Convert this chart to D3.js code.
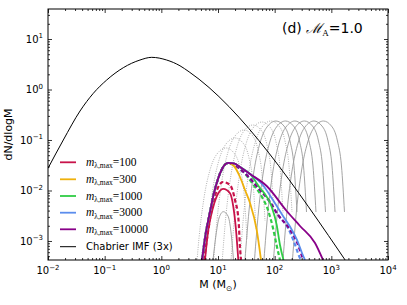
<!DOCTYPE html>
<html><head><meta charset="utf-8">
<script src="https://cdn.jsdelivr.net/npm/d3@7"></script>
<style>body{margin:0;background:#fff} svg{display:block}</style>
</head><body><svg id="c" width="407" height="305"></svg>
<script>
// ---------- DATA (log10 M, log10 dN/dlogM) ----------
const xTickExps = [-2,-1,0,1,2,3,4];
const yTickExps = [-3,-2,-1,0,1];
const legendLabels = ["100","300","1000","3000","10000"];

const chabrier = [[-2.0,-1.56],[-1.73,-1.0],[-1.435,-0.426],[-1.2,-0.075],[-0.964,0.188],[-0.671,0.432],
  [-0.377,0.584],[-0.17,0.637],[0.094,0.584],[0.329,0.47],[0.49,0.35],[3.3,-3.47]];

const redSolid = [[0.770,-3.376],[0.829,-2.782],[0.917,-2.32],[1.005,-2.055],[1.094,-1.97],[1.212,-2.055],[1.270,-2.32],[1.318,-2.782],[1.358,-3.376]];
const redDashed = [[0.753,-3.376],[0.823,-2.822],[0.894,-2.347],[0.982,-1.99],[1.088,-1.832],[1.212,-1.891],[1.300,-2.188],[1.362,-2.584],[1.388,-3.119],[1.406,-3.376]];
const yellowSolid = [[0.718,-3.376],[0.788,-2.822],[0.859,-2.426],[0.929,-2.05],[1.0,-1.772],[1.071,-1.574],[1.177,-1.455],[1.282,-1.515],[1.388,-1.733],[1.476,-1.99],[1.565,-2.248],[1.683,-2.782],[1.759,-3.376]];
const greenSolid = [[0.718,-3.376],[0.788,-2.822],[0.859,-2.426],[0.929,-2.05],[1.0,-1.772],[1.071,-1.574],[1.177,-1.455],[1.282,-1.465],[1.388,-1.535],[1.565,-1.673],[1.741,-1.95],[1.859,-2.123],[1.947,-2.321],[2.036,-2.683],[2.094,-3.079],[2.156,-3.376]];
const greenDashed = [[0.718,-3.376],[0.788,-2.822],[0.859,-2.426],[0.929,-2.05],[1.0,-1.772],[1.071,-1.574],[1.177,-1.46],[1.282,-1.49],[1.446,-1.628],[1.60,-1.85],[1.776,-2.129],[1.882,-2.386],[1.970,-2.743],[2.041,-3.119],[2.094,-3.376]];
const blueSolid = [[0.718,-3.376],[0.788,-2.822],[0.859,-2.426],[0.929,-2.05],[1.0,-1.772],[1.071,-1.574],[1.177,-1.455],[1.282,-1.465],[1.388,-1.535],[1.565,-1.673],[1.776,-1.871],[1.970,-2.188],[2.147,-2.505],[2.270,-2.713],[2.394,-2.98],[2.482,-3.238],[2.535,-3.376]];
const blueDashed = [[0.718,-3.376],[0.788,-2.822],[0.859,-2.426],[0.929,-2.05],[1.0,-1.772],[1.071,-1.574],[1.177,-1.46],[1.282,-1.49],[1.446,-1.628],[1.741,-1.99],[1.918,-2.228],[2.059,-2.485],[2.235,-2.743],[2.329,-2.98],[2.447,-3.337],[2.465,-3.376]];
const purpleSolid = [[0.718,-3.376],[0.788,-2.822],[0.859,-2.426],[0.929,-2.05],[1.0,-1.772],[1.071,-1.574],[1.177,-1.455],[1.282,-1.465],[1.388,-1.535],[1.565,-1.673],[1.859,-1.911],[2.212,-2.406],[2.447,-2.703],[2.712,-3.04],[2.853,-3.376]];
const purpleDashed = [[0.718,-3.376],[0.788,-2.822],[0.859,-2.426],[0.929,-2.05],[1.0,-1.772],[1.071,-1.574],[1.177,-1.46],[1.282,-1.49],[1.446,-1.628],[1.741,-1.99],[1.918,-2.228],[2.059,-2.485],[2.235,-2.717],[2.389,-3.014],[2.505,-3.376]];

const greySolidLevels = [-3.376,-2.406,-1.614,-1.06,-0.743,-0.624,-0.723,-1.02,-1.515,-2.426];
const greySolidArcsM = [
  [1.476,1.547,1.635,1.741,1.864,2.023,2.164,2.270,2.341,2.394],
  [1.644,1.715,1.803,1.909,2.032,2.191,2.332,2.438,2.509,2.562],
  [1.811,1.882,1.970,2.076,2.199,2.358,2.499,2.605,2.676,2.729],
  [1.979,2.050,2.138,2.244,2.367,2.526,2.667,2.773,2.844,2.897],
  [2.147,2.218,2.306,2.412,2.535,2.694,2.835,2.941,3.012,3.065],
  [2.314,2.385,2.473,2.579,2.702,2.861,3.002,3.108,3.179,3.232]
];
const greySmallArc = [[0.912,-3.376],[0.965,-2.88],[1.018,-2.545],[1.094,-2.42],[1.176,-2.505],[1.229,-2.822],[1.273,-3.376]];
const greyDottedArcs = [
  [[0.594,-3.91],[0.665,-2.94],[0.753,-2.148],[0.859,-1.594],[0.982,-1.277],[1.141,-1.158],[1.282,-1.257],[1.388,-1.554],[1.459,-2.049],[1.512,-2.96]],
  [[0.753,-3.712],[0.824,-2.742],[0.912,-1.95],[1.018,-1.396],[1.141,-1.079],[1.300,-0.960],[1.441,-1.059],[1.547,-1.356],[1.618,-1.851],[1.671,-2.762]],
  [[0.912,-3.554],[0.983,-2.584],[1.071,-1.792],[1.177,-1.238],[1.300,-0.921],[1.459,-0.802],[1.600,-0.901],[1.706,-1.198],[1.777,-1.693],[1.830,-2.604]],
  [[1.070,-3.455],[1.141,-2.485],[1.229,-1.693],[1.335,-1.139],[1.458,-0.822],[1.617,-0.703],[1.758,-0.802],[1.864,-1.099],[1.935,-1.594],[1.988,-2.505]],
  [[1.229,-3.396],[1.300,-2.426],[1.388,-1.634],[1.494,-1.08],[1.617,-0.763],[1.776,-0.644],[1.917,-0.743],[2.023,-1.04],[2.094,-1.535],[2.147,-2.446]],
  [[1.388,-3.376],[1.459,-2.406],[1.547,-1.614],[1.653,-1.06],[1.776,-0.743],[1.935,-0.624],[2.076,-0.723],[2.182,-1.02],[2.253,-1.515],[2.306,-2.426]]
];

// ---------- STYLE ----------
const colors = ["#c8134a","#efb10c","#2fcc45","#5b8ded","#880088"];
const L=48,R=388,T=9,B=260;

const svg = d3.select("#c");
const x = d3.scaleLog().domain([1e-2,1e4]).range([L,R]);
const y = d3.scaleLog().domain([4.2e-4,39.3]).range([B,T]);
const line = d3.line().x(d=>x(10**d[0])).y(d=>y(10**d[1])).curve(d3.curveMonotoneX);

svg.append("defs").append("clipPath").attr("id","clip").append("rect")
  .attr("x",L).attr("y",T).attr("width",R-L).attr("height",B-T);
const g = svg.append("g").attr("clip-path","url(#clip)");

// grey arcs
greyDottedArcs.forEach(a=>g.append("path").attr("d",line(a)).attr("fill","none")
  .attr("stroke","#a8a8a8").attr("stroke-width",0.9).attr("stroke-dasharray","1,1.3"));
greySolidArcsM.forEach(ms=>g.append("path").attr("d",line(ms.map((m,i)=>[m,greySolidLevels[i]])))
  .attr("fill","none").attr("stroke","#9a9a9a").attr("stroke-width",0.9));
g.append("path").attr("d",line(greySmallArc)).attr("fill","none").attr("stroke","#9a9a9a").attr("stroke-width",0.9);

// chabrier
g.append("path").attr("d",line(chabrier)).attr("fill","none").attr("stroke","#000").attr("stroke-width",1);

// coloured curves
const solids=[redSolid,yellowSolid,greenSolid,blueSolid,purpleSolid];
const dashed=[[0,redDashed],[2,greenDashed],[3,blueDashed],[4,purpleDashed]];
dashed.forEach(([ci,d])=>g.append("path").attr("d",line(d)).attr("fill","none")
  .attr("stroke",colors[ci]).attr("stroke-width",2.2).attr("stroke-dasharray","4,2.5"));
solids.forEach((d,i)=>g.append("path").attr("d",line(d)).attr("fill","none")
  .attr("stroke",colors[i]).attr("stroke-width",1.8));

// ticks
const majX = xTickExps.map(e=>10**e);
const minX = []; for(let e=-2;e<4;e++) for(let k=2;k<10;k++) minX.push(k*10**e);
const majY = yTickExps.map(e=>10**e);
const minY = []; for(let e=-4;e<2;e++) for(let k=2;k<10;k++){const v=k*10**e; if(v>=4.2e-4&&v<=39.3) minY.push(v);}
function ax(gen,tr,vals,size){
  const a=svg.append("g").attr("transform",tr).call(gen.tickValues(vals).tickSizeInner(-size).tickSizeOuter(0).tickFormat(""));
  a.select(".domain").remove(); a.selectAll("line").attr("stroke","#000").attr("stroke-width",0.8);
}
ax(d3.axisBottom(x),`translate(0,${B})`,majX,4); ax(d3.axisBottom(x),`translate(0,${B})`,minX,2);
ax(d3.axisTop(x),`translate(0,${T})`,majX,4); ax(d3.axisTop(x),`translate(0,${T})`,minX,2);
ax(d3.axisLeft(y),`translate(${L},0)`,majY,4); ax(d3.axisLeft(y),`translate(${L},0)`,minY,2);
ax(d3.axisRight(y),`translate(${R},0)`,majY,4); ax(d3.axisRight(y),`translate(${R},0)`,minY,2);
svg.append("rect").attr("x",L).attr("y",T).attr("width",R-L).attr("height",B-T)
  .attr("fill","none").attr("stroke","#000").attr("stroke-width",1);

const fs="DejaVu Sans, sans-serif";
const expStr = e=> e<0 ? "\u2212"+(-e) : ""+e;
xTickExps.forEach(e=>{
  const t=svg.append("text").attr("x",x(10**e)).attr("y",274).attr("text-anchor","middle")
    .attr("font-family",fs).attr("font-size",10);
  t.append("tspan").text("10");
  t.append("tspan").attr("dy",-4.5).attr("font-size",7).text(expStr(e));
});
yTickExps.forEach(e=>{
  const t=svg.append("text").attr("x",43).attr("y",y(10**e)+3.6).attr("text-anchor","end")
    .attr("font-family",fs).attr("font-size",10);
  t.append("tspan").text("10");
  t.append("tspan").attr("dy",-4.5).attr("font-size",7).text(expStr(e));
});

// axis labels
const xl=svg.append("text").attr("x",(L+R)/2).attr("y",288).attr("text-anchor","middle")
  .attr("font-family",fs).attr("font-size",11);
xl.append("tspan").text("M (M");
xl.append("tspan").attr("dy",3).attr("font-size",7.5).text("\u2299");
xl.append("tspan").attr("dy",-3).text(")");
svg.append("text").attr("transform",`translate(12,${(T+B)/2}) rotate(-90)`).attr("text-anchor","middle")
  .attr("font-family",fs).attr("font-size",11).text("dN/dlogM");

// title
const tt=svg.append("text").attr("x",282).attr("y",33).attr("font-family",fs).attr("font-size",14);
tt.append("tspan").text("(d) ");
tt.append("tspan").attr("font-family","DejaVu Serif, serif").attr("font-style","italic").text("\u2133");
tt.append("tspan").attr("dy",3).attr("font-size",9).attr("font-family","Liberation Serif, serif").text("A");
tt.append("tspan").attr("dy",-3).text("=1.0");

// legend
const ly=[162.3,179.3,196,212.7,229.3];
legendLabels.forEach((lab,i)=>{
  svg.append("line").attr("x1",60).attr("x2",76).attr("y1",ly[i]).attr("y2",ly[i])
    .attr("stroke",colors[i]).attr("stroke-width",1.8);
  const t=svg.append("text").attr("x",86).attr("y",ly[i]+3.5).attr("font-family","Liberation Serif, serif").attr("font-size",11.5);
  t.append("tspan").attr("font-style","italic").text("m");
  t.append("tspan").attr("dy",2.5).attr("font-size",7.5).text("\u03bb,max");
  t.append("tspan").attr("dy",-2.5).text("=" + lab);
});
svg.append("line").attr("x1",60).attr("x2",76).attr("y1",246.7).attr("y2",246.7).attr("stroke","#000").attr("stroke-width",1);
svg.append("text").attr("x",86).attr("y",250.3).attr("font-family",fs).attr("font-size",10).text("Chabrier IMF (3x)");
</script></body></html>
